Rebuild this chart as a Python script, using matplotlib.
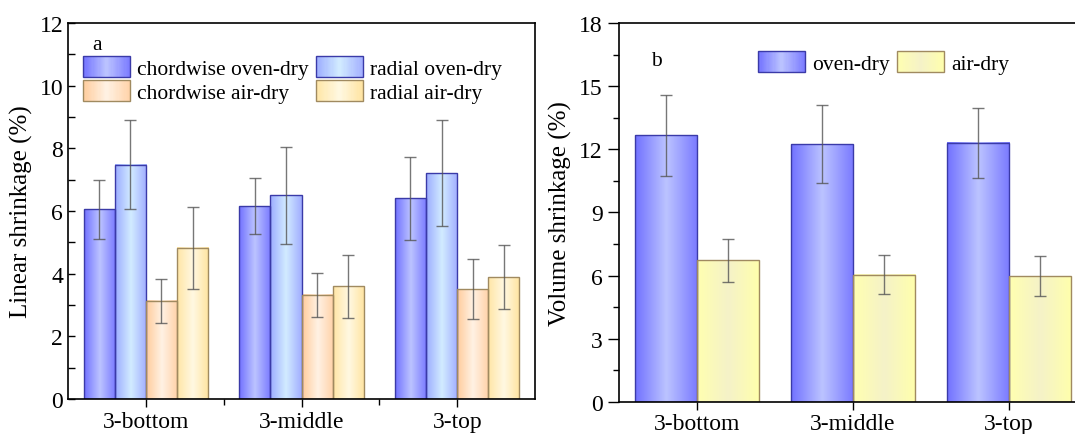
import numpy as np
import matplotlib
matplotlib.use('Agg')
import matplotlib.pyplot as plt
from matplotlib.colors import LinearSegmentedColormap
from matplotlib.patches import Rectangle
from matplotlib.legend_handler import HandlerBase
from matplotlib.ticker import MultipleLocator, FixedLocator

plt.rcParams['font.family'] = ['Liberation Serif', 'DejaVu Serif']

positions = ['3-bottom', '3-middle', '3-top']

# panel a: linear shrinkage (%)
chord_oven = [6.05, 6.15, 6.40]
chord_oven_err = [0.95, 0.90, 1.33]
radial_oven = [7.48, 6.50, 7.20]
radial_oven_err = [1.42, 1.55, 1.69]
chord_air = [3.13, 3.32, 3.50]
chord_air_err = [0.70, 0.70, 0.96]
radial_air = [4.83, 3.60, 3.89]
radial_air_err = [1.31, 1.00, 1.02]

# panel b: volume shrinkage (%)
vol_oven = [12.66, 12.25, 12.31]
vol_oven_err = [1.93, 1.85, 1.66]
vol_air = [6.73, 6.05, 5.98]
vol_air_err = [1.03, 0.92, 0.95]


def grad_cmap(edge, center, right=None):
    right = right or edge
    return LinearSegmentedColormap.from_list('g', [edge, center, right])


cm_chord_oven = grad_cmap('#7272ff', '#bcc4ff', '#7a7aff')
cm_radial_oven = grad_cmap('#9cacff', '#d2ecff', '#a2aeff')
cm_chord_air = grad_cmap('#ffcc9c', '#fff2e4', '#ffd2a8')
cm_radial_air = grad_cmap('#ffe6a6', '#fff8e2', '#ffe4a0')
cm_vol_air = grad_cmap('#ffffb0', '#f5f2c8', '#ffffac')

edge_blue = '#3a3aa8'
edge_brown = '#a08a60'


def gradient_bars(ax, bars, cmap):
    grad = cmap(np.linspace(0, 1, 64))[None, :, :3]
    for b in bars:
        x0, w, h = b.get_x(), b.get_width(), b.get_height()
        ax.imshow(grad, extent=[x0, x0 + w, 0, h], aspect='auto',
                  zorder=1, interpolation='bilinear')


class GradHandler(HandlerBase):
    def __init__(self, cmap, edge):
        super().__init__()
        self.cmap = cmap
        self.edge = edge

    def create_artists(self, legend, orig_handle, xdescent, ydescent,
                       width, height, fontsize, trans):
        n = 40
        arts = []
        for i in range(n):
            arts.append(Rectangle((-xdescent + width * i / n, -ydescent),
                                  width / n * 1.1, height,
                                  facecolor=self.cmap((i + 0.5) / n),
                                  edgecolor='none', transform=trans))
        arts.append(Rectangle((-xdescent, -ydescent), width, height,
                              facecolor='none', edgecolor=self.edge,
                              lw=1, transform=trans))
        return arts


fig = plt.figure(figsize=(10.75, 4.35), dpi=100)
ax1 = fig.add_axes([0.0633, 0.0805, 0.4344, 0.8644])
ax2 = fig.add_axes([0.5758, 0.0736, 0.4353, 0.8713])

err_kw = dict(ecolor='#555555', elinewidth=1, capsize=4, capthick=1, alpha=0.8)
x = np.arange(1, len(positions) + 1)

# ---- panel a
w = 0.2
series_a = [
    (chord_oven, chord_oven_err, cm_chord_oven, edge_blue, 'chordwise oven-dry'),
    (radial_oven, radial_oven_err, cm_radial_oven, edge_blue, 'radial oven-dry'),
    (chord_air, chord_air_err, cm_chord_air, edge_brown, 'chordwise air-dry'),
    (radial_air, radial_air_err, cm_radial_air, edge_brown, 'radial air-dry'),
]
handles_a = {}
for k, (vals, errs, cm, ec, lab) in enumerate(series_a):
    xs = x + (k - 1.5) * w
    bars = ax1.bar(xs, vals, w, facecolor='none', edgecolor=ec, lw=1, zorder=2)
    gradient_bars(ax1, bars, cm)
    ax1.errorbar(xs, vals, yerr=errs, fmt='none', zorder=3, **err_kw)
    h = Rectangle((0, 0), 1, 1)
    handles_a[lab] = (h, GradHandler(cm, ec))

ax1.set_xlim(0.5, 3.5)
ax1.set_ylim(0, 12)
ax1.set_xticks(x)
ax1.set_xticklabels(positions)
ax1.xaxis.set_minor_locator(FixedLocator([1.5, 2.5]))
ax1.yaxis.set_major_locator(MultipleLocator(2))
ax1.yaxis.set_minor_locator(MultipleLocator(1))
ax1.tick_params(axis='y', which='both', direction='in', labelsize=17, length=5, width=1)
ax1.tick_params(axis='x', which='major', direction='out', labelsize=17, length=6, width=1, pad=3)
ax1.tick_params(axis='x', which='minor', direction='out', length=4, width=1)
ax1.set_ylabel('Linear shrinkage (%)', fontsize=18, labelpad=5)
for s in ax1.spines.values():
    s.set_linewidth(1.2)

order = ['chordwise oven-dry', 'chordwise air-dry', 'radial oven-dry', 'radial air-dry']
leg = ax1.legend([handles_a[o][0] for o in order], order,
                 handler_map={handles_a[o][0]: handles_a[o][1] for o in order},
                 ncol=2, loc='upper left', bbox_to_anchor=(0.032, 0.912),
                 frameon=False, fontsize=15.5, borderpad=0, borderaxespad=0,
                 handlelength=2.2, handleheight=1.15, labelspacing=0.05,
                 columnspacing=0.35, handletextpad=0.3)
ax1.text(0.062, 0.944, 'a', transform=ax1.transAxes, fontsize=15.5,
         ha='center', va='center')

# ---- panel b
w2 = 0.4
b1 = ax2.bar(x - w2 / 2, vol_oven, w2, facecolor='none', edgecolor=edge_blue, lw=1, zorder=2)
gradient_bars(ax2, b1, cm_chord_oven)
ax2.errorbar(x - w2 / 2, vol_oven, yerr=vol_oven_err, fmt='none', zorder=3, **err_kw)
b2 = ax2.bar(x + w2 / 2, vol_air, w2, facecolor='none', edgecolor=edge_brown, lw=1, zorder=2)
gradient_bars(ax2, b2, cm_vol_air)
ax2.errorbar(x + w2 / 2, vol_air, yerr=vol_air_err, fmt='none', zorder=3, **err_kw)

ax2.set_xlim(0.5, 3.5)
ax2.set_ylim(0, 18)
ax2.set_xticks(x)
ax2.set_xticklabels(positions)
ax2.yaxis.set_major_locator(MultipleLocator(3))
ax2.yaxis.set_minor_locator(MultipleLocator(1.5))
ax2.tick_params(axis='y', which='major', direction='out', labelsize=17, length=8, width=1)
ax2.tick_params(axis='y', which='minor', direction='out', length=4, width=1)
ax2.tick_params(axis='x', which='major', direction='out', labelsize=17, length=6, width=1, pad=2)
ax2.set_ylabel('Volume shrinkage (%)', fontsize=18, labelpad=5)
ax2.spines['right'].set_visible(False)
for s in ax2.spines.values():
    s.set_linewidth(1.2)

h_ov, h_ad = Rectangle((0, 0), 1, 1), Rectangle((0, 0), 1, 1)
ax2.legend([h_ov, h_ad], ['oven-dry', 'air-dry'],
           handler_map={h_ov: GradHandler(cm_chord_oven, edge_blue),
                        h_ad: GradHandler(cm_vol_air, edge_brown)},
           ncol=2, loc='upper left', bbox_to_anchor=(0.297, 0.926),
           frameon=False, fontsize=15.5, borderpad=0, borderaxespad=0,
           handlelength=2.2, handleheight=1.1, columnspacing=0.35,
           handletextpad=0.3)
ax2.text(0.081, 0.90, 'b', transform=ax2.transAxes, fontsize=15.5,
         ha='center', va='center')

fig.savefig('out.png', dpi=100)
